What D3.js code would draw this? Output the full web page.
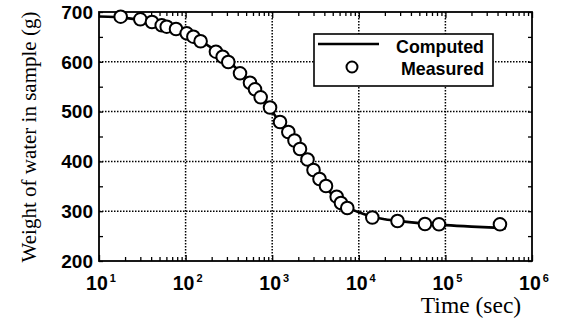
<!DOCTYPE html>
<html>
<head>
<meta charset="utf-8">
<script src="https://cdn.jsdelivr.net/npm/d3@7"></script>
<style>
  html, body { margin: 0; padding: 0; background: #fff; }
  svg { display: block; }
</style>
</head>
<body>
<svg id="chart" width="562" height="322"></svg>
<script>
// ---- data ----
const measuredTime = [17.8, 30, 40.9, 53, 60.5, 77.5, 103, 123, 149, 224, 268, 311, 425, 554, 633, 736, 944,
  1231, 1535, 1809, 2094, 2557, 3000, 3518, 4181, 5555, 6226, 7362, 14320, 27990, 58100, 84300, 426600];
const measuredWeight = [690.6, 685.3, 679.9, 673.3, 670.5, 665.9, 657.2, 650.4, 641.2, 620.3, 610.2, 599.6, 576.9, 558, 544.8, 528.7, 508.2,
  479.1, 459, 442, 424.9, 403.8, 382.7, 364.7, 350.6, 329.1, 316.5, 306.4, 287.4, 280.3, 274.3, 273.7, 273.7];
const computedTime = [10, 15, 20, 30, 50, 70, 100, 150, 200, 300, 500, 700, 1000, 1500, 2000, 3000, 5000, 7000,
  10000, 15000, 20000, 30000, 50000, 100000, 200000, 500000];
const computedWeight = [691, 690, 688, 684, 674, 666, 656, 641, 628, 604, 567, 537, 500, 455, 425, 382, 332, 310,
  298, 288, 284, 280, 276, 272, 269, 266];
const xTickExponents = [1, 2, 3, 4, 5, 6];
const yTickValues = [200, 300, 400, 500, 600, 700];
const legendLabels = ["Computed", "Measured"];
const xTitle = "Time (sec)";
const yTitle = "Weight of water in sample (g)";

// ---- layout ----
const L = 99, R = 532, T = 12, B = 261;
const svg = d3.select("#chart");
const x = d3.scaleLog().domain([10, 1e6]).range([L, R]);
const y = d3.scaleLinear().domain([200, 700]).range([B, T]);

// grid
const grid = svg.append("g").attr("stroke", "#000").attr("stroke-width", 1.5).attr("stroke-dasharray", "1.5,1.5");
grid.selectAll("line.v").data(xTickExponents.slice(1, -1).map(e => Math.pow(10, e))).join("line")
  .attr("x1", d => x(d)).attr("x2", d => x(d)).attr("y1", T).attr("y2", B);
grid.selectAll("line.h").data(yTickValues.slice(1, -1)).join("line")
  .attr("x1", L).attr("x2", R).attr("y1", d => y(d)).attr("y2", d => y(d));

// minor ticks
const minorX = [];
for (let e = 1; e < 6; e++) for (let m = 2; m <= 9; m++) minorX.push(m * Math.pow(10, e));
const majorX = xTickExponents.map(e => Math.pow(10, e));
const yTicksAll = d3.range(200, 701, 50);

const axB = d3.axisBottom(x).tickValues(minorX).tickSizeInner(-4).tickSizeOuter(0).tickFormat("");
const axT = d3.axisTop(x).tickValues(minorX).tickSizeInner(-4).tickSizeOuter(0).tickFormat("");
const axBM = d3.axisBottom(x).tickValues(majorX).tickSizeInner(-6).tickSizeOuter(0).tickFormat("");
const axTM = d3.axisTop(x).tickValues(majorX).tickSizeInner(-6).tickSizeOuter(0).tickFormat("");
const axL = d3.axisLeft(y).tickValues(yTicksAll).tickSizeInner(-4).tickSizeOuter(0).tickFormat("");
const axR = d3.axisRight(y).tickValues(yTicksAll).tickSizeInner(-4).tickSizeOuter(0).tickFormat("");
[[axB, `translate(0,${B})`], [axT, `translate(0,${T})`], [axBM, `translate(0,${B})`], [axTM, `translate(0,${T})`],
 [axL, `translate(${L},0)`], [axR, `translate(${R},0)`]].forEach(([a, tr]) => {
  const g = svg.append("g").attr("transform", tr).call(a);
  g.select(".domain").remove();
  g.selectAll("line").attr("stroke", "#000").attr("stroke-width", 1.3);
});

// frame
svg.append("rect").attr("x", L).attr("y", T).attr("width", R - L).attr("height", B - T)
  .attr("fill", "none").attr("stroke", "#000").attr("stroke-width", 1.8);

// computed line
const line = d3.line().x((d, i) => x(computedTime[i])).y(d => y(d)).curve(d3.curveMonotoneX);
svg.append("path").datum(computedWeight).attr("d", line)
  .attr("fill", "none").attr("stroke", "#000").attr("stroke-width", 2.6);

// measured points
svg.append("g").selectAll("circle").data(measuredWeight).join("circle")
  .attr("cx", (d, i) => x(measuredTime[i])).attr("cy", d => y(d)).attr("r", 6.3)
  .attr("fill", "#fff").attr("stroke", "#000").attr("stroke-width", 2);

// y tick labels
svg.append("g").selectAll("text").data(yTickValues).join("text")
  .attr("x", L - 6).attr("y", d => y(d)).attr("dy", "0.36em")
  .attr("text-anchor", "end").attr("font-family", "Liberation Sans, Arial, sans-serif")
  .attr("font-weight", "bold").attr("font-size", 19).text(d => d);

// x tick labels
const xl = svg.append("g").selectAll("text").data(xTickExponents).join("text")
  .attr("x", d => x(Math.pow(10, d)) + 2).attr("y", 290)
  .attr("text-anchor", "middle").attr("font-family", "Liberation Sans, Arial, sans-serif")
  .attr("font-weight", "bold").attr("font-size", 19.5);
xl.append("tspan").text("10");
xl.append("tspan").attr("dx", 2).attr("dy", -8).attr("font-size", 11).text(d => d);

// axis titles
svg.append("text").attr("x", 471).attr("y", 313).attr("text-anchor", "middle")
  .attr("font-family", "Liberation Serif, Times New Roman, serif").attr("font-size", 23.5).text(xTitle);
svg.append("text").attr("transform", "translate(36,137) rotate(-90)").attr("text-anchor", "middle")
  .attr("font-family", "Liberation Serif, Times New Roman, serif").attr("font-size", 21).text(yTitle);

// legend
const lg = svg.append("g");
lg.append("rect").attr("x", 314).attr("y", 34).attr("width", 179).attr("height", 52)
  .attr("fill", "#fff").attr("stroke", "#000").attr("stroke-width", 1.6);
lg.append("line").attr("x1", 318).attr("x2", 379).attr("y1", 44).attr("y2", 44)
  .attr("stroke", "#000").attr("stroke-width", 2.6);
lg.append("circle").attr("cx", 352).attr("cy", 67).attr("r", 5.5)
  .attr("fill", "#fff").attr("stroke", "#000").attr("stroke-width", 2);
lg.selectAll("text").data(legendLabels).join("text")
  .attr("x", 484).attr("y", (d, i) => i === 0 ? 53 : 75).attr("text-anchor", "end")
  .attr("font-family", "Liberation Sans, Arial, sans-serif").attr("font-weight", "bold")
  .attr("font-size", 17.8).text(d => d);
</script>
</body>
</html>
